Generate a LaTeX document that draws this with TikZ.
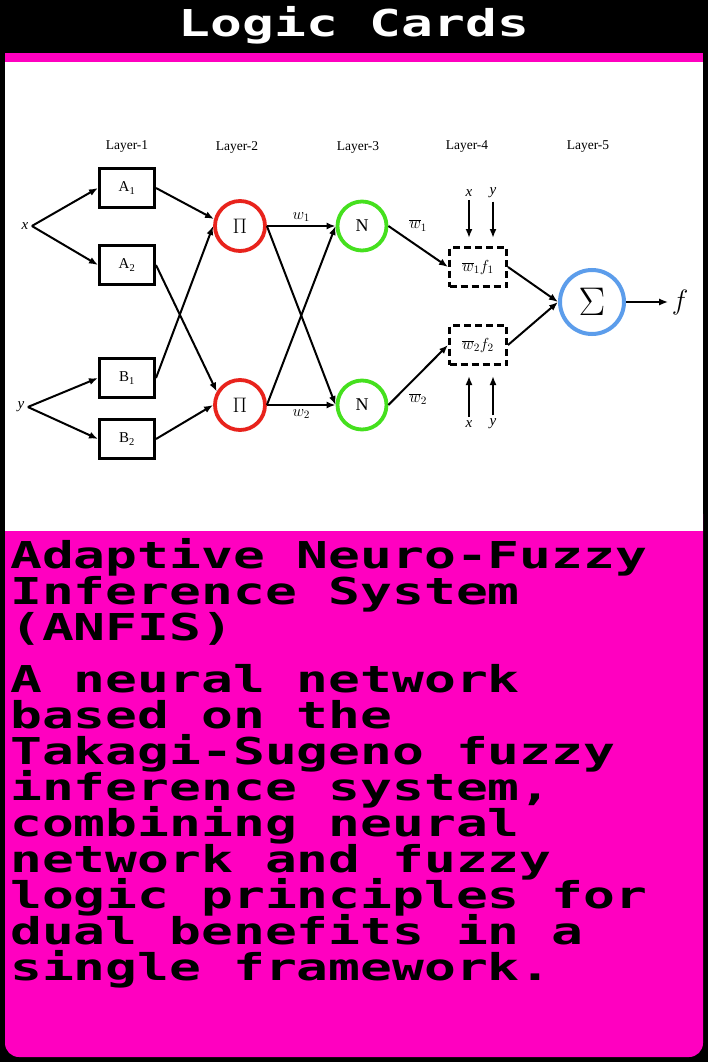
\RequirePackage{fix-cm}
\documentclass[tikz,border=0pt]{standalone}
\usepackage{fontspec}
\usetikzlibrary{arrows.meta}
\setmainfont{Liberation Serif}
\newfontfamily\pixelfont[FakeStretch=1.43]{DejaVu Sans Mono}
\newcommand\cardfont{\pixelfont\bfseries\fontsize{37}{36}\selectfont\lineskiplimit=-100pt\relax}
\definecolor{cardpink}{HTML}{FF00C0}
\definecolor{prodred}{HTML}{E8231C}
\definecolor{normgreen}{HTML}{45E01E}
\definecolor{sumblue}{HTML}{5C9DEB}

\begin{document}
\begin{tikzpicture}[x=1pt, y=-1pt,
    layerbox/.style={draw, line width=3pt, minimum width=55pt, minimum height=39pt, inner sep=0pt, font=\fontsize{15}{17}\selectfont},
    rulebox/.style={draw, dash pattern=on 7pt off 4pt, line width=3pt, minimum width=57pt, minimum height=39pt, inner sep=0pt, font=\fontsize{16}{18}\selectfont},
    prodnode/.style={circle, draw=prodred, line width=3.8pt, minimum size=50pt, inner sep=0pt, font=\fontsize{21}{23}\selectfont},
    normnode/.style={circle, draw=normgreen, line width=3.8pt, minimum size=49pt, inner sep=0pt, font=\fontsize{18}{20}\selectfont},
    sumnode/.style={circle, draw=sumblue, line width=4pt, minimum size=64pt, inner sep=0pt, font=\fontsize{40}{40}\selectfont},
    layerlabel/.style={font=\fontsize{13.5}{15}\selectfont},
    varlabel/.style={font=\fontsize{15}{17}\selectfont\itshape},
    wlabel/.style={font=\fontsize{16}{18}\selectfont},
    arrow/.style={-{Latex[length=9pt, width=7pt]}, line width=2pt},
    cardtext/.style={font=\cardfont, anchor=base west, align=left, inner sep=0pt},
]
\fill[black] (0,0) rectangle (708,1062);
\fill[cardpink, rounded corners=14pt] (5,500) rectangle (703,1057);
\fill[cardpink] (5,53) rectangle (703,62);
\fill[white] (5,62) rectangle (703,531);
\useasboundingbox (0,0) rectangle (708,1062);

\node[font=\cardfont, text=white, anchor=base, inner sep=0pt] (title) at (354,37) {Logic Cards};
\node[cardtext] (head) at (10,640) {Adaptive Neuro-Fuzzy\\Inference System\\(ANFIS)};
\node[cardtext] (desc) at (10,980) {A neural network\\based on the\\Takagi-Sugeno fuzzy\\inference system,\\combining neural\\network and fuzzy\\logic principles for\\dual benefits in a\\single framework.};

\node[layerlabel] (L1) at (127,147) {Layer-1};
\node[layerlabel] (L2) at (237,147) {Layer-2};
\node[layerlabel] (L3) at (358,147) {Layer-3};
\node[layerlabel] (L4) at (467,147) {Layer-4};
\node[layerlabel] (L5) at (588,147) {Layer-5};

\node[varlabel] (xin) at (25,226) {x};
\node[varlabel] (yin) at (21,407) {y};
\node[layerbox] (A1) at (127,188) {A\textsubscript{1}};
\node[layerbox] (A2) at (127,265) {A\textsubscript{2}};
\node[layerbox] (B1) at (127,378) {B\textsubscript{1}};
\node[layerbox] (B2) at (127,439) {B\textsubscript{2}};
\node[prodnode] (P1) at (240,226) {$\Pi$};
\node[prodnode] (P2) at (240,405) {$\Pi$};
\node[normnode] (N1) at (362,226) {N};
\node[normnode] (N2) at (362,405) {N};
\node[rulebox] (R1) at (478,267) {$\overline{w}_1 f_1$};
\node[rulebox] (R2) at (478,345) {$\overline{w}_2 f_2$};
\node[sumnode] (S) at (592,302) {$\Sigma$};
\node[font=\fontsize{28}{30}\selectfont] (fout) at (680,302) {$f$};
\node[varlabel] (x1) at (469,193) {x};
\node[varlabel] (y1) at (493,193) {y};
\node[varlabel] (x2) at (469,424) {x};
\node[varlabel] (y2) at (493,424) {y};

\draw[arrow] (xin.east) -- (A1.west);
\draw[arrow] (xin.east) -- (A2.west);
\draw[arrow] (yin.east) -- (B1.west);
\draw[arrow] (yin.east) -- (B2.west);
\draw[arrow] (A1.east) -- (P1.165);
\draw[arrow] (A2.east) -- (P2.150);
\draw[arrow] (B1.east) -- (P1.west);
\draw[arrow] (B2.east) -- (P2.west);
\draw[arrow] (P1.east) -- node[wlabel, above] (w1) {$w_1$} (N1.west);
\draw[arrow] (P1.east) -- (N2.west);
\draw[arrow] (P2.east) -- (N1.west);
\draw[arrow] (P2.east) -- node[wlabel, below] (w2) {$w_2$} (N2.west);
\draw[arrow] (N1.east) -- node[wlabel, above=11pt] (wb1) {$\overline{w}_1$} (R1.west);
\draw[arrow] (N2.east) -- node[wlabel, below=14pt] (wb2) {$\overline{w}_2$} (R2.west);
\draw[arrow] (R1.east) -- (S.west);
\draw[arrow] (R2.east) -- (S.west);
\draw[arrow] (S.east) -- (fout.west);
\draw[arrow, shorten >=8pt] (x1) -- (x1 |- R1.north);
\draw[arrow, shorten >=8pt] (y1) -- (y1 |- R1.north);
\draw[arrow, shorten >=10pt] (x2) -- (x2 |- R2.south);
\draw[arrow, shorten >=10pt] (y2) -- (y2 |- R2.south);
\end{tikzpicture}
\end{document}
